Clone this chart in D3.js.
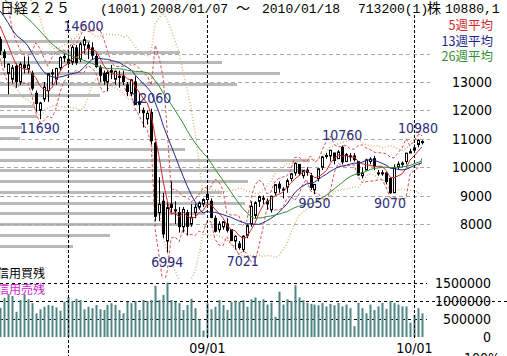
<!DOCTYPE html>
<html>
<head>
<meta charset="utf-8">
<script src="https://cdn.jsdelivr.net/npm/d3@7"></script>
<style>
  body { margin: 0; background: #fff; }
  svg { display: block; }
  .num { font-family: "Liberation Sans Narrow", "DejaVu Sans Condensed", "Liberation Sans", sans-serif; font-size: 14px; }
  .jp { font-family: "Noto Sans CJK JP", sans-serif; font-size: 13px; }
</style>
</head>
<body>
<svg width="507" height="356"></svg>
<script>
// weekly bars, week 0 = 2008/01/07 ... week 106 = 2010/01/18
var open = [14500,14050,13300,13100,13550,13000,13600,13450,13300,12600,12000,12400,12700,13300,13100,13500,13900,13800,13700,14200,
  13800,14300,14300,14200,13900,13500,13300,13000,13400,13100,13200,13200,12900,12600,13000,12300,12000,11700,11930,10850,
  8400,8800,7400,8700,8500,8400,7900,8400,8000,8400,8600,8700,8860,8800,8200,7800,7900,8000,7800,7400,
  7300,7100,7600,8000,8300,8800,8900,8800,8500,9100,9400,9200,9300,9600,9800,10100,9700,9900,9700,9200,
  9600,10000,10400,10400,10500,10300,10700,10200,10400,10400,10200,9700,9900,10200,10300,9800,9800,9800,9600,9100,
  10000,10100,10200,10500,10600,10800,10900];
var high = [14600,14150,13650,13600,13650,13700,13900,13900,13400,12700,12300,13000,13300,13450,13500,13900,14000,14000,14300,14300,
  14400,14600,14400,14400,14000,13600,13400,13400,13600,13400,13400,13400,13000,13100,13200,12600,12100,12000,12060,10900,
  9650,9100,8800,9500,8800,8600,8600,8500,8700,8700,8800,8900,9340,8900,8300,8100,8100,8200,7800,7600,
  7400,7600,8000,8800,8800,9000,9000,8900,9000,9400,9500,9300,9600,9800,10170,10100,9900,10000,9800,9400,
  9950,10400,10500,10600,10500,10600,10760,10500,10500,10500,10200,10000,10300,10350,10400,9900,9900,9800,9650,10100,
  10200,10200,10500,10650,10800,10980,10950];
var low = [13950,13500,12572,12950,12800,12900,13300,13300,12700,11950,11691,12300,12300,12900,12900,13400,13700,13500,13600,13600,
  13700,14000,13800,13800,13500,13000,12900,12670,13100,12900,12800,12900,12500,12500,12200,11900,11400,11500,10800,8100,
  8100,7500,6994,8400,8000,7700,7700,7600,7900,8200,8500,8600,8700,8200,7700,7700,7800,7700,7400,7100,
  7100,7021,7500,7900,8200,8600,8700,8500,8400,9000,9100,8900,9100,9500,9700,9700,9600,9700,9200,9050,
  9500,9900,10300,10200,10100,10300,10100,10200,10200,10200,9700,9600,9900,10100,9900,9700,9700,9400,9070,9100,
  9900,10000,10100,10500,10600,10700,10800];
var close = [14110,13861,13629,13497,13017,13622,13500,13603,12782,12241,12260,12820,13293,13323,13476,13863,13849,13655,14219,13690,
  14338,14489,14181,13942,13544,13237,13039,13334,13350,13376,13168,13019,12666,13072,12212,12215,11920,11893,10938,8276,
  8693,7649,8577,8583,8462,7910,8512,7917,8235,8588,8739,8859,9040,8230,7745,7994,8076,7779,7416,7568,
  7173,7569,7945,8626,8749,8964,8907,8707,8977,9385,9265,9225,9523,9768,10135,9786,9877,9816,9287,9395,
  9944,10357,10412,10597,10238,10534,10187,10444,10370,10265,9731,9799,10257,10282,10034,9789,9804,9497,9100,9977,
  10107,10142,10494,10546,10681,10950,10880];
var volume = [810000,1090000,1190000,1140000,700000,1030000,1190000,1050000,940000,660000,770000,840000,890000,870000,820000,730000,980000,1100000,1000000,1060000,
  1030000,770000,840000,800000,890000,770000,750000,890000,940000,890000,750000,660000,980000,940000,1000000,750000,1030000,1000000,1030000,1420000,
  1030000,1170000,1510000,1030000,980000,940000,750000,890000,1060000,800000,490000,180000,940000,770000,840000,1030000,890000,750000,980000,1010000,
  980000,1030000,840000,1050000,1100000,1000000,1050000,900000,950000,560000,1260000,900000,1050000,1000000,1440000,1100000,1020000,950000,920000,900000,
  880000,950000,850000,920000,880000,950000,850000,900000,800000,300000,950000,800000,660000,900000,750000,850000,950000,780000,1000000,950000,
  900000,850000,850000,400000,620000,800000,660000];

// closes of 2007/07/16 .. 2007/12/31, only needed so the averages exist at the left edge
var priorCloses = [18157,17284,16979,16765,15273,16248,16569,16122,16128,16313,16785,17065,17331,16438,16505,16517,15583,15154,14888,15680,
  15956,15514,15257,15307,14691];

// volume by price band (left grey bars)
var bandPrices = [14450,14070,13690,13310,12930,12550,12170,11790,11410,11030,10650,10270,9890,9510,9130,8750,8370,7990,7610,7230];
var bandVolumes = [9000,18000,22200,28000,23700,10000,3500,3700,2200,2000,18500,31000,30500,24800,22200,24500,20500,19300,11000,7300];

var peakWeeks = [21, 10, 38, 42, 61, 86, 79, 98, 105];
var peakValues = [14600, 11690, 12060, 6994, 7021, 10760, 9050, 9070, 10980];
var peakIsHigh = [true, false, true, false, false, true, false, false, true];

var priceTicks = [8000, 9000, 10000, 11000, 12000, 13000];
var gridPrices = [8000, 9000, 10000, 11000, 12000, 13000, 14000];
var volumeTicks = [0, 500000, 1000000, 1500000];
var dateTickLabels = ["09/01", "10/01"];
var dateTickWeeks = [52, 104];
var markerWeek = 17;

var maPeriods = [5, 13, 26];
var maLabels = ["5週平均", "13週平均", "26週平均"];
var maColors = ["#d02828", "#24248c", "#2f8f2f"];

var svg = d3.select("svg");
var x = d3.scaleLinear().domain([0, 104]).range([0, 414]);
var y = d3.scaleLinear().domain([8000, 13000]).range([224, 82]);
var yv = d3.scaleLinear().domain([0, 1500000]).range([337, 283]);
var bw = d3.scaleLinear().domain([0, 31000]).range([0, 310]);

svg.append("clipPath").attr("id", "pc").append("rect")
  .attr("x", 0).attr("y", 0).attr("width", 430).attr("height", 279);

var allCloses = priorCloses.concat(close);
var off = priorCloses.length;
function win(i, n) { return allCloses.slice(off + i - n + 1, off + i + 1); }
var weeks = d3.range(close.length);

var price = svg.append("g").attr("clip-path", "url(#pc)");

// volume by price
price.selectAll(".band").data(bandPrices).enter().append("rect")
  .attr("x", 0).attr("y", function(d) { return Math.round(y(d)) - 1; })
  .attr("width", function(d, i) { return bw(bandVolumes[i]); })
  .attr("height", 3).attr("fill", "#b9b9b9");

// grid
price.selectAll(".grid").data(gridPrices).enter().append("line")
  .attr("x1", 0).attr("x2", 430)
  .attr("y1", function(d) { return Math.round(y(d)) + 0.5; })
  .attr("y2", function(d) { return Math.round(y(d)) + 0.5; })
  .attr("stroke", "#a8a8a8").attr("stroke-dasharray", "4,3");

// bands around the 5 and 13 week averages
function bandLine(n, k) {
  return d3.line().x(function(i) { return x(i); })
    .y(function(i) { var w = win(i, n); return y(d3.mean(w) + k * d3.deviation(w)); });
}
[[13, 2], [13, -2]].forEach(function(b) {
  price.append("path").datum(weeks).attr("d", bandLine(b[0], b[1]))
    .attr("fill", "none").attr("stroke", "#dcb47c").attr("stroke-width", 1.5).attr("stroke-dasharray", "1,2");
});
[[5, 2], [5, -2]].forEach(function(b) {
  price.append("path").datum(weeks).attr("d", bandLine(b[0], b[1]))
    .attr("fill", "none").attr("stroke", "#d85050").attr("stroke-dasharray", "3,2");
});

// candles
var c = price.selectAll(".c").data(weeks).enter().append("g");
c.append("line")
  .attr("x1", function(i) { return Math.round(x(i)) + 0.5; })
  .attr("x2", function(i) { return Math.round(x(i)) + 0.5; })
  .attr("y1", function(i) { return y(high[i]); })
  .attr("y2", function(i) { return y(low[i]); })
  .attr("stroke", "#000");
c.append("rect")
  .attr("x", function(i) { return Math.round(x(i)) - 0.5; })
  .attr("y", function(i) { return y(Math.max(open[i], close[i])); })
  .attr("width", 2)
  .attr("height", function(i) { return Math.max(1, Math.abs(y(open[i]) - y(close[i]))); })
  .attr("fill", function(i) { return close[i] >= open[i] ? "#fff" : "#000"; })
  .attr("stroke", "#000");

// moving averages
maPeriods.forEach(function(n, k) {
  price.append("path").datum(weeks)
    .attr("d", d3.line().x(function(i) { return x(i); }).y(function(i) { return y(d3.mean(win(i, n))); }))
    .attr("fill", "none").attr("stroke", maColors[k]).attr("stroke-width", 1);
});

// peak labels
svg.selectAll(".pk").data(peakWeeks).enter().append("text").attr("class", "num")
  .attr("x", function(w) { return x(w); })
  .attr("y", function(w, i) { return peakIsHigh[i] ? y(peakValues[i]) - 6 : y(peakValues[i]) + 14; })
  .attr("text-anchor", "middle").attr("fill", "#2b2b7a")
  .text(function(w, i) { return peakValues[i]; });

// price axis
svg.selectAll(".pt").data(priceTicks).enter().append("text").attr("class", "num")
  .attr("x", 492).attr("y", function(d) { return y(d) + 5; })
  .attr("text-anchor", "end").attr("fill", "#000").text(function(d) { return d; });

// legend
maLabels.forEach(function(t, k) {
  svg.append("text").attr("class", "jp").attr("x", 493).attr("y", 30 + k * 15.5)
    .style("font-size", "12.5px")
    .attr("text-anchor", "end").attr("fill", maColors[k]).text(t);
});

// volume panel
svg.selectAll(".vg").data(volumeTicks.slice(1)).enter().append("line")
  .attr("x1", 0).attr("x2", function(d) { return d === 1000000 ? 507 : 427; })
  .attr("y1", function(d) { return Math.round(yv(d)) + 0.5; })
  .attr("y2", function(d) { return Math.round(yv(d)) + 0.5; })
  .attr("stroke", "#000").attr("stroke-dasharray", "3,3");
svg.selectAll(".vb").data(weeks).enter().append("rect")
  .attr("x", function(i) { return Math.round(x(i)) - 0.5; })
  .attr("y", function(i) { return yv(volume[i]); })
  .attr("width", 2)
  .attr("height", function(i) { return yv(0) - yv(volume[i]); })
  .attr("fill", "#4f8585");
svg.selectAll(".vt").data(volumeTicks).enter().append("text").attr("class", "num")
  .attr("x", 491).attr("y", function(d) { return yv(d) + 5; })
  .attr("text-anchor", "end").attr("fill", "#000").text(function(d) { return d; });
svg.append("text").attr("class", "num").attr("x", 500).attr("y", 363)
  .attr("text-anchor", "end").text("100%");

svg.append("text").attr("class", "jp").attr("x", -3).attr("y", 278).style("font-size", "12px")
  .attr("fill", "#000").text("信用買残");
svg.append("text").attr("class", "jp").attr("x", -3).attr("y", 294).style("font-size", "12px")
  .attr("fill", "#cc22cc").text("信用売残");

// date dividers
svg.append("line").attr("x1", Math.round(x(markerWeek)) + 0.5).attr("x2", Math.round(x(markerWeek)) + 0.5)
  .attr("y1", 20).attr("y2", 356).attr("stroke", "#000").attr("stroke-dasharray", "3,2");
dateTickWeeks.forEach(function(w, k) {
  var px = Math.round(x(w)) + 0.5;
  svg.append("line").attr("x1", px).attr("x2", px).attr("y1", 15).attr("y2", 340)
    .attr("stroke", "#000").attr("stroke-dasharray", "3,2");
  svg.append("text").attr("class", "num").attr("x", px).attr("y", 353)
    .attr("text-anchor", "middle").text(dateTickLabels[k]);
});

// title
var title = svg.append("text").attr("y", 13)
  .style("font-family", "'Liberation Mono', 'Noto Sans CJK JP', monospace").style("font-size", "13px");
[["日経２２５", 0, 14], ["(1001)", 100, 13], ["2008/01/07", 150, 13], ["～", 236, 14], ["2010/01/18", 262, 13],
 ["713200(1)", 358, 13], ["株", 427, 14], ["10880,1", 445, 13]].forEach(function(p) {
  title.append("tspan").attr("x", p[1]).style("font-size", p[2] + "px").text(p[0]);
});
</script>
</body>
</html>
